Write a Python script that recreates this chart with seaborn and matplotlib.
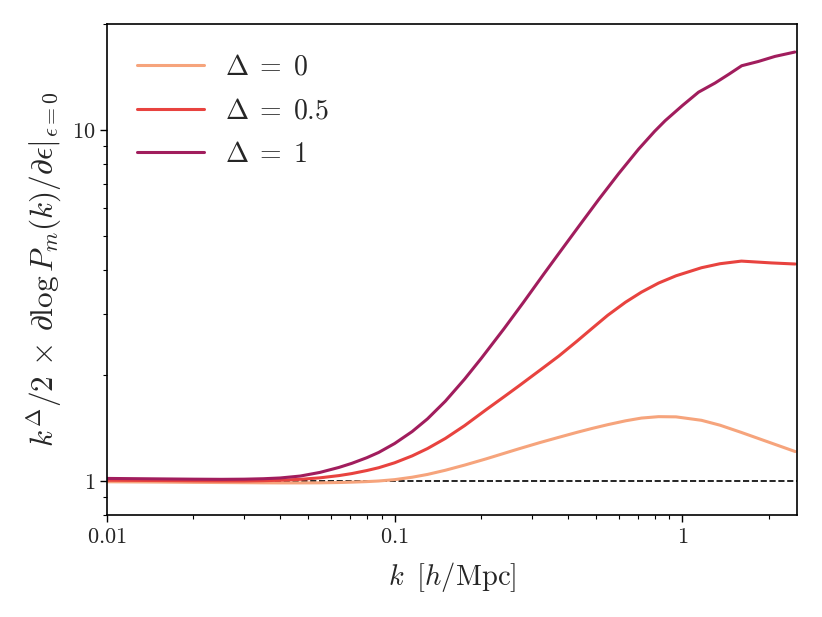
import numpy as np
import pandas as pd
import matplotlib
matplotlib.use("Agg")
import matplotlib.pyplot as plt
import matplotlib.ticker as mticker
import seaborn as sns

# ---- data ----
k_d0 = [0.01, 0.015, 0.02, 0.025, 0.03, 0.035, 0.04, 0.047, 0.055, 0.064, 0.071,
        0.08, 0.088, 0.1, 0.115, 0.13, 0.15, 0.175, 0.2076, 0.24, 0.27, 0.32,
        0.372, 0.43, 0.484, 0.55, 0.634, 0.72, 0.826, 0.95, 1.164, 1.35, 1.602,
        2.0, 2.465]
v_d0 = [0.996, 0.994, 0.992, 0.991, 0.990, 0.989, 0.9885, 0.9885, 0.989, 0.991,
        0.9935, 0.997, 1.001, 1.010, 1.026, 1.045, 1.074, 1.111, 1.157, 1.200,
        1.236, 1.288, 1.333, 1.377, 1.412, 1.448, 1.485, 1.512, 1.526, 1.524,
        1.490, 1.443, 1.376, 1.290, 1.214]

k_d05 = [0.01, 0.015, 0.02, 0.025, 0.03, 0.035, 0.04, 0.047, 0.055, 0.064, 0.071,
         0.08, 0.088, 0.1, 0.115, 0.13, 0.15, 0.175, 0.2076, 0.24, 0.27, 0.32,
         0.372, 0.43, 0.484, 0.55, 0.634, 0.72, 0.826, 0.95, 1.164, 1.35, 1.602,
         2.035, 2.465]
v_d05 = [1.006, 1.004, 1.002, 1.001, 1.001, 1.003, 1.006, 1.012, 1.022, 1.037,
         1.051, 1.072, 1.092, 1.128, 1.180, 1.238, 1.323, 1.439, 1.596, 1.739,
         1.866, 2.070, 2.271, 2.503, 2.717, 2.966, 3.231, 3.451, 3.663, 3.842,
         4.050, 4.158, 4.230, 4.180, 4.150]

k_d1 = [0.01, 0.015, 0.02, 0.025, 0.03, 0.035, 0.04, 0.047, 0.055, 0.064, 0.071,
        0.08, 0.088, 0.1, 0.115, 0.13, 0.15, 0.175, 0.2, 0.24, 0.28, 0.33,
        0.372, 0.436, 0.512, 0.6, 0.704, 0.8, 0.871, 1.0, 1.137, 1.298, 1.45,
        1.606, 1.834, 2.096, 2.458]
v_d1 = [1.018, 1.015, 1.013, 1.012, 1.013, 1.016, 1.021, 1.034, 1.059, 1.094,
        1.124, 1.166, 1.207, 1.280, 1.384, 1.504, 1.689, 1.952, 2.237, 2.718,
        3.226, 3.890, 4.449, 5.309, 6.339, 7.503, 8.813, 9.900, 10.62, 11.73,
        12.80, 13.59, 14.40, 15.22, 15.65, 16.18, 16.65]

labels = [r'$\Delta \;=\; 0$', r'$\Delta \;=\; 0.5$', r'$\Delta \;=\; 1$']
colors = ['#f6a47c', '#e8433f', '#a11d5d']
x_ticks = [0.01, 0.1, 1]
y_ticks = [1, 10]

df = pd.concat([
    pd.DataFrame({'k': kk, 'v': vv, 'series': lab})
    for kk, vv, lab in zip([k_d0, k_d05, k_d1], [v_d0, v_d05, v_d1], labels)
], ignore_index=True)

sns.set_style("ticks")
plt.rcParams['font.family'] = 'serif'
plt.rcParams['font.serif'] = ['cmr10', 'DejaVu Serif']
plt.rcParams['mathtext.fontset'] = 'cm'
plt.rcParams['axes.formatter.use_mathtext'] = True
plt.rcParams['axes.unicode_minus'] = False

fig = plt.figure(figsize=(8.22, 6.17), dpi=100)
ax = fig.add_axes([0.130, 0.165, 0.9696 - 0.130, 0.961 - 0.165])

sns.lineplot(data=df, x='k', y='v', hue='series', hue_order=labels,
             palette=dict(zip(labels, colors)), linewidth=2.2, ax=ax,
             sort=False)
ax.axhline(1.0, color='black', ls='--', lw=1.2, zorder=1)

ax.set_xscale('log')
ax.set_yscale('log')
ax.set_xlim(0.01, 2.5)
ax.set_ylim(0.8, 20)

fmt = mticker.FuncFormatter(lambda x, p: f'${x:g}$')
ax.xaxis.set_major_locator(mticker.FixedLocator(x_ticks))
ax.yaxis.set_major_locator(mticker.FixedLocator(y_ticks))
ax.xaxis.set_major_formatter(fmt)
ax.yaxis.set_major_formatter(fmt)
ax.xaxis.set_minor_locator(mticker.LogLocator(base=10, subs=np.arange(2, 10)))
ax.yaxis.set_minor_locator(mticker.LogLocator(base=10, subs=np.arange(2, 10)))
ax.xaxis.set_minor_formatter(mticker.NullFormatter())
ax.yaxis.set_minor_formatter(mticker.NullFormatter())
ax.tick_params(which='major', length=5, width=1, labelsize=16, color='black')
ax.tick_params(which='minor', length=3, width=0.8, color='black')
for s in ax.spines.values():
    s.set_color('black')
    s.set_linewidth(1.2)

ax.set_xlabel(r'$k\;\;[h/\mathrm{Mpc}]$', fontsize=20.5, labelpad=10)
ax.set_ylabel(r'$k^{\Delta}/2 \,\times\, \partial \log P_m(k)/\partial \epsilon|_{\epsilon=0}$',
              fontsize=22.5, labelpad=6)

leg = ax.legend(loc='upper left', frameon=False, fontsize=20, handlelength=2.4,
                borderaxespad=0.7, labelspacing=0.62, handletextpad=0.75)

fig.savefig('out.png', dpi=100)
